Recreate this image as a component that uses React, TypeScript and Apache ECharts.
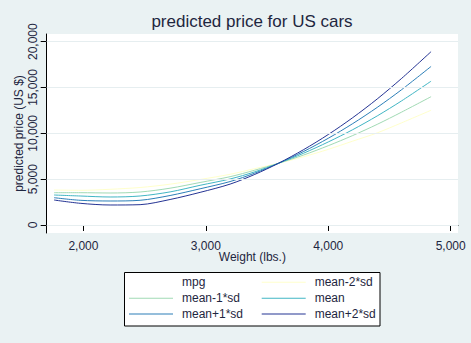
import React, { useEffect, useRef } from "react";
import * as echarts from "echarts";

const weights = [1760, 1973, 2218, 2463, 2708, 2953, 3198, 3400, 3593, 3800, 4000, 4200, 4400, 4600, 4840];
const meanMinus2 = [3818, 3785, 3895, 4091, 4451, 4964, 5531, 6150, 6731, 7450, 8250, 9150, 10050, 11150, 12520];
const meanMinus1 = [3524, 3524, 3491, 3600, 4015, 4637, 5270, 5980, 6731, 7640, 8650, 9760, 10980, 12320, 14000];
const meanVals = [3273, 3164, 3055, 3164, 3611, 4330, 5019, 5800, 6731, 7840, 9060, 10400, 11900, 13550, 15690];
const meanPlus1 = [2980, 2695, 2618, 2695, 3218, 3950, 4740, 5660, 6731, 8030, 9460, 11060, 12830, 14770, 17300];
const meanPlus2 = [2727, 2368, 2182, 2219, 2782, 3560, 4460, 5520, 6731, 8230, 9870, 11710, 13750, 16000, 18910];

const seriesNames = ["mpg", "mean-2*sd", "mean-1*sd", "mean", "mean+1*sd", "mean+2*sd"];
const seriesColors = ["#ffffff", "#ffffcc", "#a1dab4", "#41b6c4", "#2c7fb8", "#253494"];
const xTicks = [2000, 3000, 4000, 5000];
const yTicks = [0, 5000, 10000, 15000, 20000];

const FONT = "'Liberation Sans', Arial, sans-serif";
const TXT = "#1e2640";

export default function App() {
  const ref = useRef<HTMLDivElement>(null);
  useEffect(() => {
    if (!ref.current) return;
    const chart = echarts.init(ref.current, undefined, { renderer: "svg" });
    const valueSets = [[], meanMinus2, meanMinus1, meanVals, meanPlus1, meanPlus2];
    const series: any[] = seriesNames.map((name, i) => ({
      name,
      type: "line",
      data: (valueSets[i] as number[]).map((v, j) => [weights[j], v]),
      showSymbol: false,
      symbol: "none",
      smooth: 0.3,
      z: 3,
      lineStyle: { color: seriesColors[i], width: 1 },
      itemStyle: { color: seriesColors[i] },
      silent: true,
    }));
    // grid lines at the y tick values
    series[0].z = 1;
    series[0].markLine = {
      silent: true,
      symbol: "none",
      label: { show: false },
      lineStyle: { color: "#e6eef0", width: 1, type: "solid" },
      data: yTicks.map((v) => ({ yAxis: v })),
    };

    // legend positions: two columns, three rows
    const colX = [129, 261.7];
    const rowY = [283.3, 299.3, 315];
    const legendOrder = [
      [0, 1],
      [2, 3],
      [4, 5],
    ];
    const legends: any[] = [];
    legendOrder.forEach((row, r) =>
      row.forEach((si, c) => {
        legends.push({
          data: [seriesNames[si]],
          left: colX[c],
          top: rowY[r] - 7,
          padding: 0,
          itemWidth: 44,
          itemHeight: 1,
          icon: "rect",
          selectedMode: false,
          textStyle: { fontFamily: FONT, fontSize: 12, color: TXT, padding: [0, 0, 0, 4] },
        });
      })
    );

    chart.setOption({
      animation: false,
      backgroundColor: "#eaf2f3",
      title: {
        text: "predicted price for US cars",
        left: 252,
        textAlign: "center",
        top: 13,
        padding: 0,
        textStyle: { fontFamily: FONT, fontSize: 17, fontWeight: "normal", color: TXT },
      },
      graphic: [
        {
          type: "rect",
          shape: { x: 46.7, y: 34, width: 411.3, height: 199 },
          style: { fill: "#ffffff" },
          z: -10,
          silent: true,
        },
        {
          type: "rect",
          shape: { x: 124.5, y: 272.5, width: 255.5, height: 53.5 },
          style: { fill: "#ffffff", stroke: "#000000", lineWidth: 1 },
          z: -10,
          silent: true,
        },
      ],
      legend: legends,
      grid: { left: 46.7, right: 13, top: 34, bottom: 110, containLabel: false },
      xAxis: {
        type: "value",
        min: 1700,
        max: 5060,
        name: "Weight (lbs.)",
        nameLocation: "middle",
        nameGap: 18,
        nameMoveOverlap: false,
        nameTextStyle: { fontFamily: FONT, fontSize: 12, color: TXT },
        axisLine: { show: true, lineStyle: { color: "#000", width: 1 } },
        axisTick: { show: true, length: 6, customValues: xTicks, lineStyle: { color: "#000" } },
        axisLabel: {
          customValues: xTicks,
          margin: 7,
          fontFamily: FONT,
          fontSize: 12,
          color: TXT,
          formatter: (v: number) => v.toLocaleString("en-US"),
        },
        splitLine: { show: false },
      },
      yAxis: {
        type: "value",
        min: -873,
        max: 20838,
        name: "predicted price (US $)",
        nameLocation: "middle",
        nameRotate: 90,
        nameGap: 22,
        nameMoveOverlap: false,
        nameTextStyle: { fontFamily: FONT, fontSize: 12, color: TXT },
        axisLine: { show: true, lineStyle: { color: "#000", width: 1 } },
        axisTick: { show: true, length: 6, customValues: yTicks, lineStyle: { color: "#000" } },
        axisLabel: {
          customValues: yTicks,
          rotate: 90,
          margin: 8,
          fontFamily: FONT,
          fontSize: 12,
          color: TXT,
          formatter: (v: number) => v.toLocaleString("en-US"),
        },
        splitLine: { show: false },
      },
      series,
    });
    return () => chart.dispose();
  }, []);
  return (
    <div
      ref={ref}
      style={{ position: "absolute", left: 0, top: 0, width: 471, height: 343 }}
    />
  );
}
